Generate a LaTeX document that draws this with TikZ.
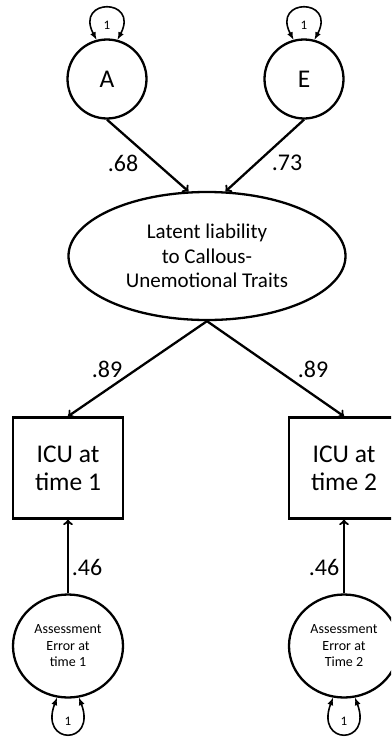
\documentclass[tikz,border=0pt]{standalone}
\usepackage{fontspec}
\setmainfont{Carlito}
\usepackage{tikz}
\usetikzlibrary{shapes.geometric}
\usetikzlibrary{arrows}

\begin{document}
\begin{tikzpicture}[x=1pt, y=-1pt,
	latentnode/.style={draw, circle, line width=2.3pt, inner sep=0pt, minimum size=79pt, font=\fontsize{25.5}{28}\selectfont},
	boxnode/.style={draw, rectangle, line width=2.3pt, minimum width=110pt, minimum height=101pt, align=center, font=\fontsize{25.5}{28}\selectfont},
	errnode/.style={draw, ellipse, line width=2.3pt, inner sep=0pt, minimum width=110pt, minimum height=103pt, align=center, font=\fontsize{14}{16.5}\selectfont},
	coef/.style={font=\fontsize{24}{28}\selectfont},
	unitlabel/.style={font=\fontsize{13}{15}\selectfont, inner sep=1pt},
	wire/.style={line width=2.3pt, -to},
	loopwire/.style={line width=1.6pt, latex-latex}]
			\useasboundingbox (0,0) rectangle (391,739);
			\clip (0,0) rectangle (391,739);
			% Paths, nodes and wires:
			\node[latentnode](A) at (107, 79){A};
			\node[latentnode](E) at (304, 79){E};
			\node[draw, ellipse, line width=2.3pt, inner sep=0pt, minimum width=277pt, minimum height=128pt, align=center, font=\fontsize{21}{24.5}\selectfont](Lat) at (207, 256){Latent liability\\to Callous-\\Unemotional Traits};
			\node[boxnode](ICU1) at (68, 468){ICU at\\time 1};
			\node[boxnode](ICU2) at (344, 468){ICU at\\time 2};
			\node[errnode](Err1) at (68, 646){Assessment\\Error at\\time 1};
			\node[errnode](Err2) at (344, 646){Assessment\\Error at\\Time 2};
			\draw[wire] (A.south) -- (Lat.106);
			\draw[wire] (E.south) -- (Lat.74);
			\draw[wire] (Lat.south) -- (ICU1.north);
			\draw[wire] (Lat.south) -- (ICU2.north);
			\draw[wire] (Err1.north) -- (ICU1.south);
			\draw[wire] (Err2.north) -- (ICU2.south);
			\node[coef](C1) at (123, 163){.68};
			\node[coef](C2) at (287, 163){.73};
			\node[coef](C3) at (107, 369){.89};
			\node[coef](C4) at (313, 369){.89};
			\node[coef](C5) at (87, 567){.46};
			\node[coef](C6) at (324, 567){.46};
			\draw[loopwire] (A.105) .. controls +(-22, -42) and +(22, -42) .. (A.75);
			\node[unitlabel](U1) at (107, 25){1};
			\draw[loopwire] (E.105) .. controls +(-22, -42) and +(22, -42) .. (E.75);
			\node[unitlabel](U2) at (304, 25){1};
			\draw[loopwire] (Err1.258) .. controls +(-18, 48) and +(18, 48) .. (Err1.282);
			\node[unitlabel](U3) at (68, 721){1};
			\draw[loopwire] (Err2.258) .. controls +(-18, 48) and +(18, 48) .. (Err2.282);
			\node[unitlabel](U4) at (344, 721){1};
		\end{tikzpicture}
\end{document}
